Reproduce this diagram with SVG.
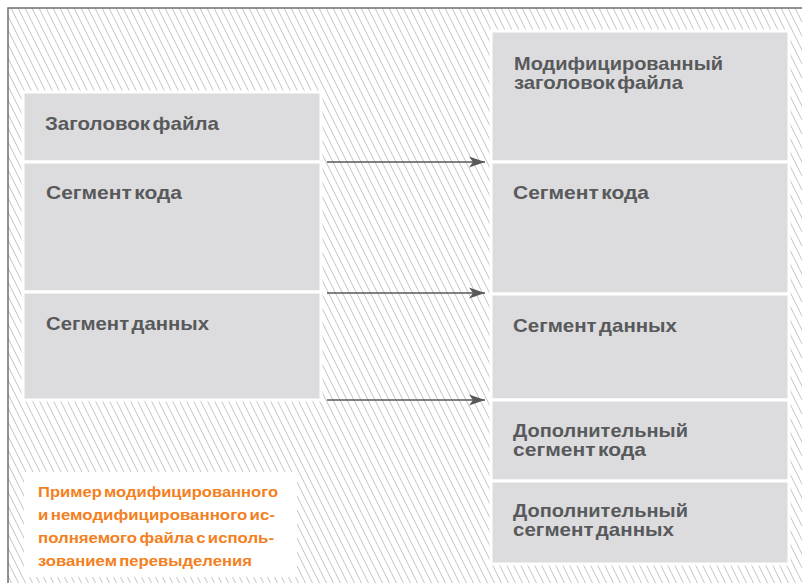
<svg xmlns="http://www.w3.org/2000/svg" width="802" height="583" viewBox="0 0 802 583">
<style>
.box{fill:#dcdcde;stroke:#ffffff;stroke-width:3}
.lbl{font-family:"Liberation Sans",Arial,sans-serif;font-weight:bold;font-size:18.5px;fill:#58595b;word-spacing:-3px}
.cap{font-family:"Liberation Sans",Arial,sans-serif;font-weight:bold;font-size:14.5px;fill:#f47f20;word-spacing:-2px}
.arr{stroke:#58595b;stroke-width:1.6;fill:none}
</style>
<defs>
<pattern id="hatch" patternUnits="userSpaceOnUse" width="7" height="14">
<rect width="7" height="14" fill="#ffffff"/>
<path d="M0,0 L7,14 M-7,0 L0,14 M7,0 L14,14" stroke="#c4c4c4" stroke-width="1"/>
</pattern>
<marker id="ah" markerUnits="userSpaceOnUse" markerWidth="18" markerHeight="12" refX="16" refY="6" orient="auto">
<path d="M0,0.5 L16,6 L0,11.5 L4,6 Z" fill="#58595b"/>
</marker>
</defs>
<rect width="802" height="583" fill="#ffffff"/>
<rect x="8" y="8" width="794" height="575" fill="url(#hatch)"/>
<path d="M8,583 L8,8 L802,8" stroke="#6d6e70" stroke-width="1.5" fill="none"/>

<g id="left-header"><rect class="box" x="23" y="92" width="298" height="70"/><text class="lbl" x="45" y="130" textLength="174" lengthAdjust="spacingAndGlyphs">Заголовок файла</text></g>
<g id="left-code"><rect class="box" x="23" y="162" width="298" height="130"/><text class="lbl" x="46" y="199" textLength="136" lengthAdjust="spacingAndGlyphs">Сегмент кода</text></g>
<g id="left-data"><rect class="box" x="23" y="292" width="298" height="108"/><text class="lbl" x="46" y="330" textLength="163" lengthAdjust="spacingAndGlyphs">Сегмент данных</text></g>

<g id="right-header"><rect class="box" x="491" y="31" width="298" height="131"/><text class="lbl" x="514" y="70" textLength="209" lengthAdjust="spacingAndGlyphs">Модифицированный</text><text class="lbl" x="514" y="89" textLength="169" lengthAdjust="spacingAndGlyphs">заголовок файла</text></g>
<g id="right-code"><rect class="box" x="491" y="162" width="298" height="132"/><text class="lbl" x="513" y="199" textLength="136" lengthAdjust="spacingAndGlyphs">Сегмент кода</text></g>
<g id="right-data"><rect class="box" x="491" y="294" width="298" height="106"/><text class="lbl" x="513" y="332" textLength="164" lengthAdjust="spacingAndGlyphs">Сегмент данных</text></g>
<g id="right-extra-code"><rect class="box" x="491" y="400" width="298" height="81"/><text class="lbl" x="513" y="437" textLength="175" lengthAdjust="spacingAndGlyphs">Дополнительный</text><text class="lbl" x="513" y="456" textLength="133" lengthAdjust="spacingAndGlyphs">сегмент кода</text></g>
<g id="right-extra-data"><rect class="box" x="491" y="481" width="298" height="83"/><text class="lbl" x="513" y="517" textLength="175" lengthAdjust="spacingAndGlyphs">Дополнительный</text><text class="lbl" x="513" y="536" textLength="161" lengthAdjust="spacingAndGlyphs">сегмент данных</text></g>

<g id="connectors">
<line class="arr" x1="327" y1="162" x2="485" y2="162" marker-end="url(#ah)"/>
<line class="arr" x1="327" y1="293" x2="485" y2="293" marker-end="url(#ah)"/>
<line class="arr" x1="327" y1="400" x2="485" y2="400" marker-end="url(#ah)"/>
</g>

<g id="caption">
<rect x="24" y="472" width="273" height="105" fill="#ffffff"/>
<text class="cap" x="38" y="497" textLength="240" lengthAdjust="spacingAndGlyphs">Пример модифицированного</text>
<text class="cap" x="38" y="520" textLength="237" lengthAdjust="spacingAndGlyphs">и немодифицированного ис-</text>
<text class="cap" x="38" y="543" textLength="236" lengthAdjust="spacingAndGlyphs">полняемого файла с исполь-</text>
<text class="cap" x="38" y="566" textLength="214" lengthAdjust="spacingAndGlyphs">зованием перевыделения</text>
</g>
</svg>
